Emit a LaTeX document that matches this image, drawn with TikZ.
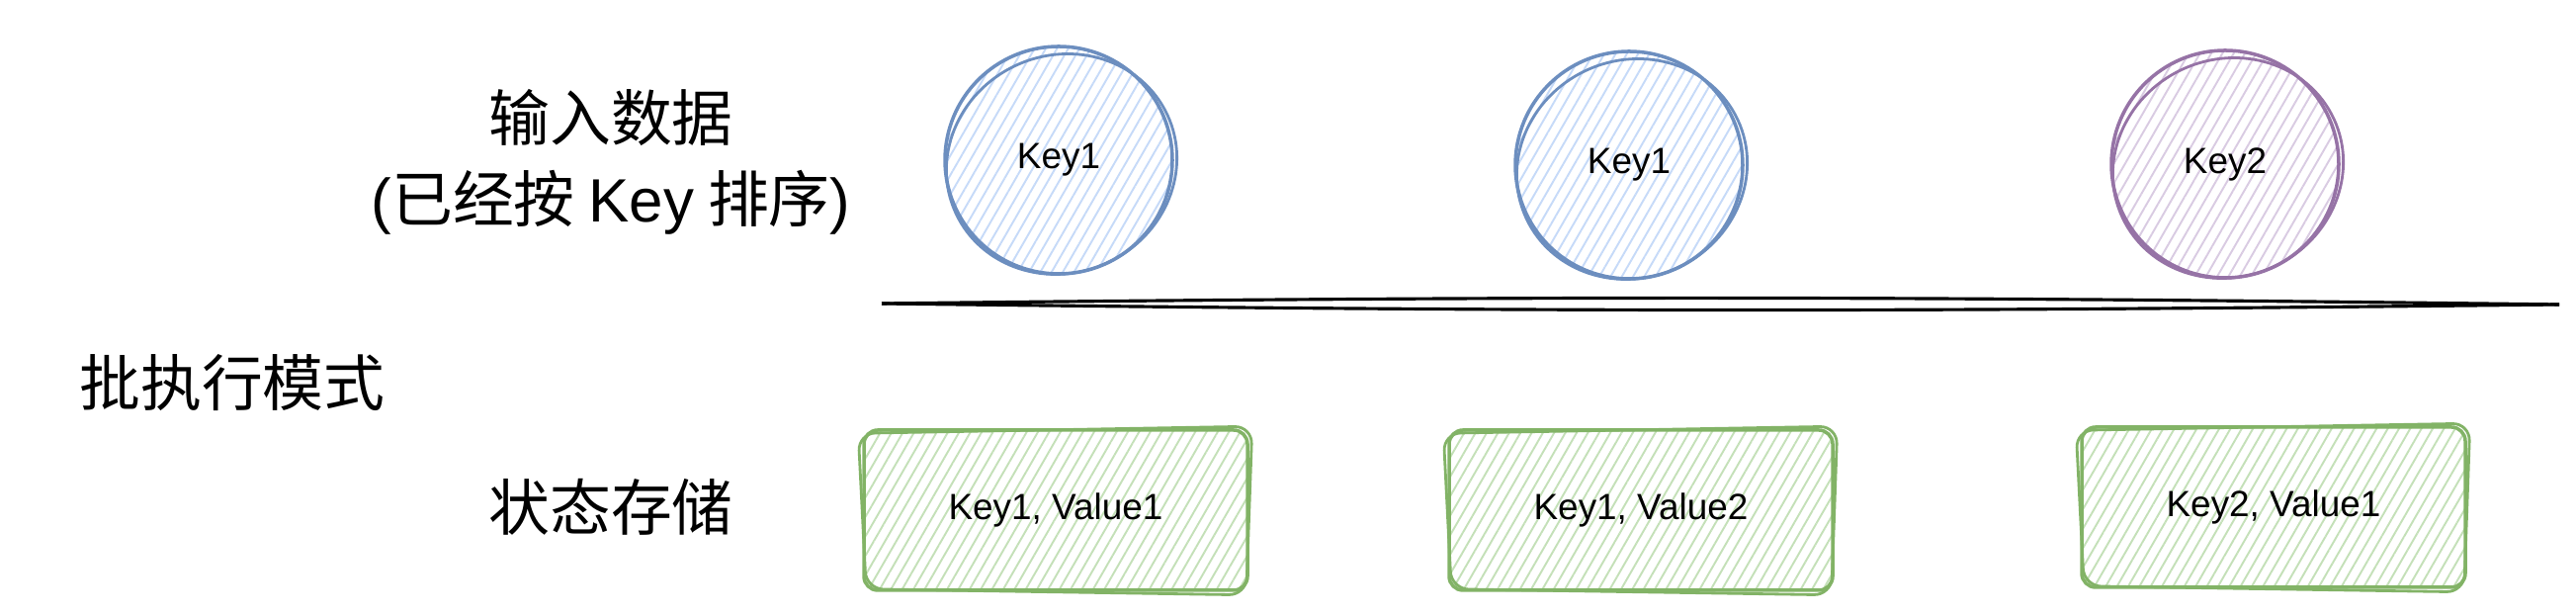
\documentclass[tikz,border=0pt]{standalone}
\usepackage{fontspec}
\setmainfont{Liberation Sans}
\newfontfamily\cjk{Noto Sans CJK SC}
\usetikzlibrary{patterns.meta}
\definecolor{blueline}{HTML}{6C8EBF}
\definecolor{bluehatch}{HTML}{C6DAF8}
\definecolor{purpleline}{HTML}{9673A6}
\definecolor{purplehatch}{HTML}{D9CBE2}
\definecolor{greenline}{HTML}{82B366}
\definecolor{greenhatch}{HTML}{C4E0B8}

\begin{document}
\begin{tikzpicture}[
        keycircle/.style={
            circle,
            minimum size=2.3cm,
            line width=1pt,
            pattern={Lines[angle=60,distance=2.8pt,line width=0.55pt]},
            font=\fontsize{10.5}{12}\selectfont
        },
        statebox/.style={
            rectangle,
            rounded corners=4pt,
            minimum width=3.88cm,
            minimum height=1.62cm,
            line width=1pt,
            draw=greenline,
            pattern={Lines[angle=60,distance=2.8pt,line width=0.55pt]},
            pattern color=greenhatch,
            font=\fontsize{10.5}{12}\selectfont
        },
        rowtext/.style={
            align=center,
            font=\cjk\fontsize{17.6}{23.3}\selectfont
        }
    ]
        \useasboundingbox (0,0) rectangle (26.06,6.22);

        \node[rowtext] (input) at (6.18,4.58) {
            输入数据\\
            {\rmfamily(}已经按 {\rmfamily Key} 排序{\rmfamily)}
        };
        \node[rowtext] (mode) at (2.35,2.35) {批执行模式};
        \node[rowtext] (state) at (6.18,1.09) {状态存储};

        \node[keycircle, draw=blueline, pattern color=bluehatch] (in1) at (10.71,4.60) {Key1};
        \node[keycircle, draw=blueline, pattern color=bluehatch] (in2) at (16.48,4.55) {Key1};
        \node[keycircle, draw=purpleline, pattern color=purplehatch] (in3) at (22.51,4.56) {Key2};

        \foreach \n/\c in {in1/blueline, in2/blueline, in3/purpleline} {
            \draw[\c, line width=0.8pt] ([shift={(0.03,-0.04)}]\n.center)
                ellipse [x radius=1.18, y radius=1.10, rotate=25];
        }

        \coordinate (lineleft) at (8.92,3.15);
        \coordinate (lineright) at (25.89,3.14);
        \draw[line width=0.9pt] (lineleft) to[bend left=0.7] (lineright);
        \draw[line width=0.9pt] (lineleft) to[bend right=0.7] (lineright);

        \node[statebox] (st1) at (10.68,1.06) {Key1, Value1};
        \node[statebox] (st2) at (16.60,1.06) {Key1, Value2};
        \node[statebox] (st3) at (23.00,1.09) {Key2, Value1};

        \foreach \n in {st1, st2, st3} {
            \draw[greenline, line width=0.8pt, rounded corners=5pt]
                ([shift={(0.04,0.03)}]\n.south west) -- ([shift={(-0.03,-0.03)}]\n.south east)
                -- ([shift={(0.03,0.02)}]\n.north east) -- ([shift={(-0.04,-0.05)}]\n.north west)
                -- cycle;
        }
    \end{tikzpicture}
\end{document}
